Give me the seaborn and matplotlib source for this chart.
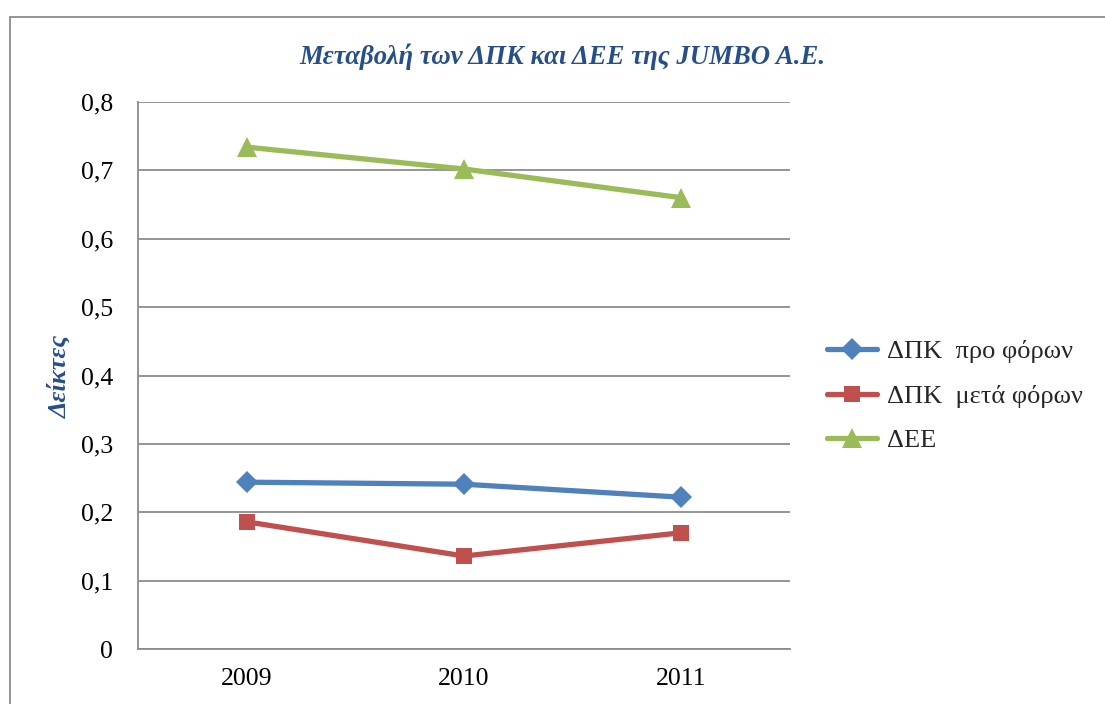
import pandas as pd
import matplotlib
matplotlib.use('Agg')
import matplotlib.pyplot as plt
import seaborn as sns
from matplotlib.patches import Rectangle

# data
years = ['2009', '2010', '2011']
dpk_pro = [0.244, 0.241, 0.222]
dpk_meta = [0.186, 0.136, 0.170]
dee = [0.734, 0.702, 0.660]
series_labels = ['ΔΠΚ  προ φόρων', 'ΔΠΚ  μετά φόρων', 'ΔΕΕ']
y_ticks = [0, 0.1, 0.2, 0.3, 0.4, 0.5, 0.6, 0.7, 0.8]
y_tick_labels = ['0', '0,1', '0,2', '0,3', '0,4', '0,5', '0,6', '0,7', '0,8']

colors = ['#4F81BD', '#C0504D', '#9BBB59']
markers = ['D', 's', '^']
msizes = [11, 12, 14]
title_blue = '#264F8A'
grey = '#8C8C8C'

sns.set_style('white')
plt.rcParams['font.family'] = ['Liberation Serif', 'DejaVu Serif']

fig = plt.figure(figsize=(11.05, 7.04), dpi=100)
ax = fig.add_axes([138 / 1105, 55 / 704, 652 / 1105, 547 / 704])

for vals, lab, col, mk, ms in zip([dpk_pro, dpk_meta, dee], series_labels, colors, markers, msizes):
    df = pd.DataFrame({'year': years, 'value': vals})
    sns.lineplot(data=df, x='year', y='value', ax=ax, color=col, marker=mk,
                 markersize=ms, markeredgecolor=col, markeredgewidth=0,
                 linewidth=3.8, label=lab)

ax.set_xlim(-0.5, 2.5)
ax.set_ylim(0, 0.8)
ax.set_yticks(y_ticks)
ax.set_yticklabels(y_tick_labels)
ax.grid(axis='y', color=grey, linewidth=1.3)
ax.set_axisbelow(True)
for s in ['top', 'right']:
    ax.spines[s].set_visible(False)
for s in ['left', 'bottom']:
    ax.spines[s].set_color(grey)
    ax.spines[s].set_linewidth(1.3)
ax.tick_params(axis='y', length=0, pad=18, labelsize=18.5, colors='black')
ax.tick_params(axis='x', length=0, pad=14, labelsize=18.5, colors='black')
ax.set_xlabel('')
ax.set_ylabel('')

fig.text(60 / 1105, 1 - 376 / 704, 'Δείκτες', rotation=90, ha='center', va='center',
         fontsize=19, fontweight='bold', fontstyle='italic', color=title_blue)

fig.text(562 / 1105, 1 - 57 / 704, 'Μεταβολή των ΔΠΚ και ΔΕΕ της JUMBO A.E.',
         ha='center', va='center', fontsize=19.3, fontweight='bold',
         fontstyle='italic', color=title_blue)

# outer chart border, running off the right and bottom edges
fig.patches.append(Rectangle((10 / 1105, -0.05), 1.2, 1 - 17 / 704 + 0.05,
                             transform=fig.transFigure, fill=False,
                             edgecolor=grey, linewidth=1.3))

leg = ax.legend(loc='center left', bbox_to_anchor=(827 / 1105, 1 - 396 / 704),
                bbox_transform=fig.transFigure, frameon=False, fontsize=19,
                handlelength=1.9, handletextpad=0.38, labelspacing=0.8,
                borderpad=0, borderaxespad=0)

fig.savefig('out.png', dpi=100, facecolor='white')
